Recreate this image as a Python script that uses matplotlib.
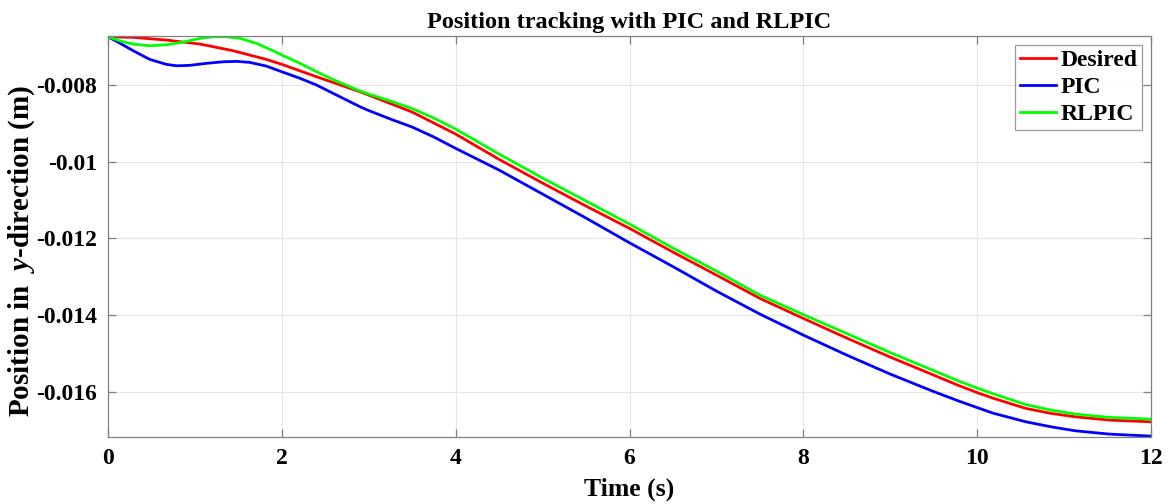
import numpy as np
import matplotlib
matplotlib.use('Agg')
import matplotlib.pyplot as plt
from matplotlib.ticker import FuncFormatter

# 字体设置（MATLAB 风格，Times 粗体）
plt.rcParams['font.family'] = ['Liberation Serif', 'DejaVu Serif']
plt.rcParams['font.weight'] = 'bold'
plt.rcParams['axes.unicode_minus'] = False
plt.rcParams['mathtext.fontset'] = 'custom'
plt.rcParams['mathtext.rm'] = 'Liberation Serif:bold'
plt.rcParams['mathtext.it'] = 'Liberation Serif:bold:italic'

# === 数据===
t_desired = [0, 0.29, 0.67, 1.06, 1.44, 1.82, 2.0, 2.4, 2.9, 3.0, 3.5, 4.0,
             4.5, 5.0, 5.5, 6.0, 6.5, 7.0, 7.5, 8.0, 8.5, 9.0, 9.5, 9.79,
             10.0, 10.18, 10.56, 10.85, 11.13, 11.52, 12.0]
y_desired = [-0.006740, -0.006756, -0.006826, -0.006931, -0.007105, -0.007330,
             -0.007460, -0.007784, -0.008175, -0.008261, -0.008704, -0.009278,
             -0.009938, -0.010556, -0.011156, -0.011737, -0.012355, -0.012955,
             -0.013563, -0.014085, -0.014598, -0.015094, -0.015563, -0.015837,
             -0.016020, -0.016163, -0.016432, -0.016562, -0.016651, -0.016737,
             -0.016781]

t_pic = [0, 0.14, 0.29, 0.48, 0.67, 0.79, 0.94, 1.13, 1.33, 1.48, 1.63, 1.82,
         2.0, 2.21, 2.4, 2.59, 2.9, 3.0, 3.25, 3.5, 3.75, 4.0, 4.5, 5.0, 5.5,
         6.0, 6.5, 7.0, 7.5, 8.0, 8.5, 9.0, 9.5, 9.79, 10.0, 10.18, 10.56,
         10.85, 11.13, 11.52, 12.0]
y_pic = [-0.006740, -0.006912, -0.007105, -0.007330, -0.007460, -0.007497,
         -0.007486, -0.007434, -0.007392, -0.007382, -0.007408, -0.007504,
         -0.007653, -0.007825, -0.008000, -0.008216, -0.008566, -0.008665,
         -0.008887, -0.009095, -0.009356, -0.009651, -0.010217, -0.010843,
         -0.011469, -0.012113, -0.012734, -0.013372, -0.013972, -0.014520,
         -0.015042, -0.015537, -0.015993, -0.016241, -0.016410, -0.016554,
         -0.016781, -0.016912, -0.017016, -0.017102, -0.017154]

t_rlpic = [0, 0.14, 0.29, 0.48, 0.67, 0.87, 1.06, 1.21, 1.36, 1.52, 1.71, 1.9,
           2.0, 2.21, 2.4, 2.59, 2.9, 3.0, 3.25, 3.5, 3.75, 4.0, 4.5, 5.0,
           5.5, 6.0, 6.5, 7.0, 7.5, 8.0, 8.5, 9.0, 9.5, 9.79, 10.0, 10.18,
           10.56, 10.85, 11.13, 11.52, 12.0]
y_rlpic = [-0.006740, -0.006852, -0.006931, -0.006975, -0.006949, -0.006879,
           -0.006782, -0.006740, -0.006740, -0.006782, -0.006912, -0.007105,
           -0.007218, -0.007434, -0.007653, -0.007857, -0.008156, -0.008235,
           -0.008417, -0.008613, -0.008861, -0.009148, -0.009800, -0.010425,
           -0.011025, -0.011625, -0.012251, -0.012851, -0.013477, -0.013985,
           -0.014481, -0.014976, -0.015446, -0.015720, -0.015902, -0.016046,
           -0.016333, -0.016476, -0.016580, -0.016666, -0.016711]

x_ticks = [0, 2, 4, 6, 8, 10, 12]
y_ticks = [-0.016, -0.014, -0.012, -0.010, -0.008]

fig = plt.figure(figsize=(11.69, 5.04), dpi=100)
ax = fig.add_axes([0.0924, 0.1335, 0.8922, 0.7951])

ax.plot(t_desired, y_desired, color='#ff0000', lw=2.0, label='Desired')
ax.plot(t_pic, y_pic, color='#0000ff', lw=2.0, label='PIC')
ax.plot(t_rlpic, y_rlpic, color='#00ff00', lw=2.0, label='RLPIC')

ax.set_xlim(0, 12)
ax.set_ylim(-0.01717, -0.00672)
ax.set_xticks(x_ticks)
ax.set_yticks(y_ticks)
ax.yaxis.set_major_formatter(FuncFormatter(lambda v, p: '%g' % v))

ax.grid(True, color='#e6e6e6', lw=0.8)
ax.set_axisbelow(True)
for s in ax.spines.values():
    s.set_color('#808080')
    s.set_linewidth(0.9)
ax.tick_params(direction='in', top=True, right=True, length=6, width=0.9,
               color='#808080', labelsize=17, pad=8)
for lab in ax.get_xticklabels() + ax.get_yticklabels():
    lab.set_fontweight('bold')

ax.set_title('Position tracking with PIC and RLPIC', fontsize=17.5,
             fontweight='bold', pad=6)
ax.set_xlabel('Time (s)', fontsize=18.5, fontweight='bold', labelpad=6)
ax.set_ylabel(r'Position in  $y$-direction (m)', fontsize=21,
              fontweight='bold')
ax.yaxis.set_label_coords(-0.068, 0.465)

leg = ax.legend(loc='upper right', fontsize=17, frameon=True, fancybox=False,
                handlelength=1.5, handletextpad=0.2, borderpad=0.2,
                labelspacing=0.23, borderaxespad=0.38)
leg.get_frame().set_edgecolor('#808080')
leg.get_frame().set_linewidth(0.9)
for txt in leg.get_texts():
    txt.set_fontweight('bold')

fig.savefig('out.png', dpi=100)
